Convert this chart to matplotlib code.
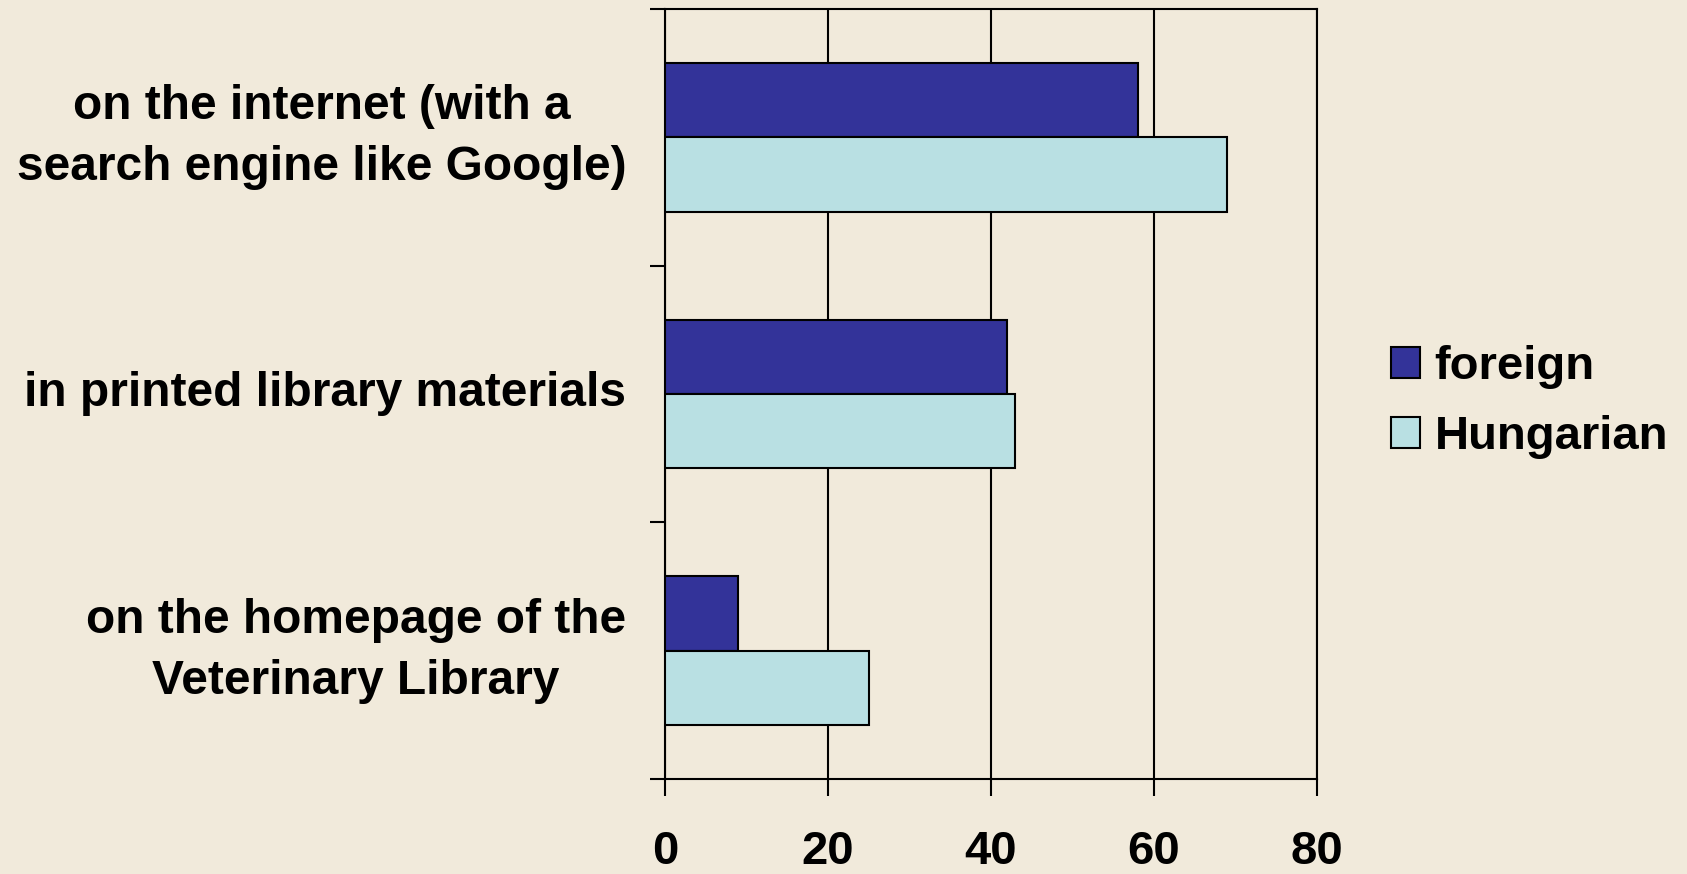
import numpy as np
import matplotlib
matplotlib.use("Agg")
import matplotlib.pyplot as plt

categories = ["on the internet (with a\nsearch engine like Google)",
              "in printed library materials",
              "on the homepage of the\nVeterinary Library"]
foreign = [58, 42, 9]
hungarian = [69, 43, 25]
x_ticks = [0, 20, 40, 60, 80]

BG = "#F1EADB"
C_FOREIGN = "#333399"
C_HUNG = "#B9E0E3"

plt.rcParams["font.family"] = ["Liberation Sans", "DejaVu Sans"]
plt.rcParams["font.weight"] = "bold"

fig = plt.figure(figsize=(16.87, 8.74), dpi=100, facecolor=BG)
ax = fig.add_axes([0.3942, 0.1087, 0.3865, 0.881])
ax.set_facecolor("none")

y = np.arange(len(categories))
h = 0.29
ax.barh(y - h / 2, foreign, height=h, color=C_FOREIGN, edgecolor="black",
        linewidth=1.5, label="foreign", zorder=3)
ax.barh(y + h / 2, hungarian, height=h, color=C_HUNG, edgecolor="black",
        linewidth=1.5, label="Hungarian", zorder=3)

ax.set_xlim(0, 80)
ax.set_ylim(2.5, -0.5)
ax.set_xticks(x_ticks)
ax.set_xticklabels([str(v) for v in x_ticks], fontsize=34, fontweight="bold")
ax.tick_params(axis="x", direction="out", length=12, width=1.5, pad=25)

ax.set_yticks([-0.5, 0.5, 1.5, 2.5])
ax.set_yticklabels([])
ax.tick_params(axis="y", which="major", direction="out", length=11, width=1.5)
ax.set_yticks(y, minor=True)
ax.set_yticklabels(categories, minor=True, fontsize=34.5, fontweight="bold",
                   ha="right", va="center", multialignment="center")
ax.tick_params(axis="y", which="minor", length=0, pad=28)
for lbl in ax.get_yticklabels(minor=True):
    lbl.set_linespacing(1.45)

ax.grid(axis="x", color="black", linewidth=1.5, zorder=1)
for s in ax.spines.values():
    s.set_linewidth(1.5)
    s.set_color("black")

fig.legend(loc="center left", bbox_to_anchor=(0.8245, 0.5397), frameon=False,
           prop={"size": 34, "weight": "bold"}, handlelength=0.62,
           handleheight=0.62, handletextpad=0.3, labelspacing=0.55,
           borderpad=0, borderaxespad=0)

fig.savefig("out.png", dpi=100, facecolor=BG)
